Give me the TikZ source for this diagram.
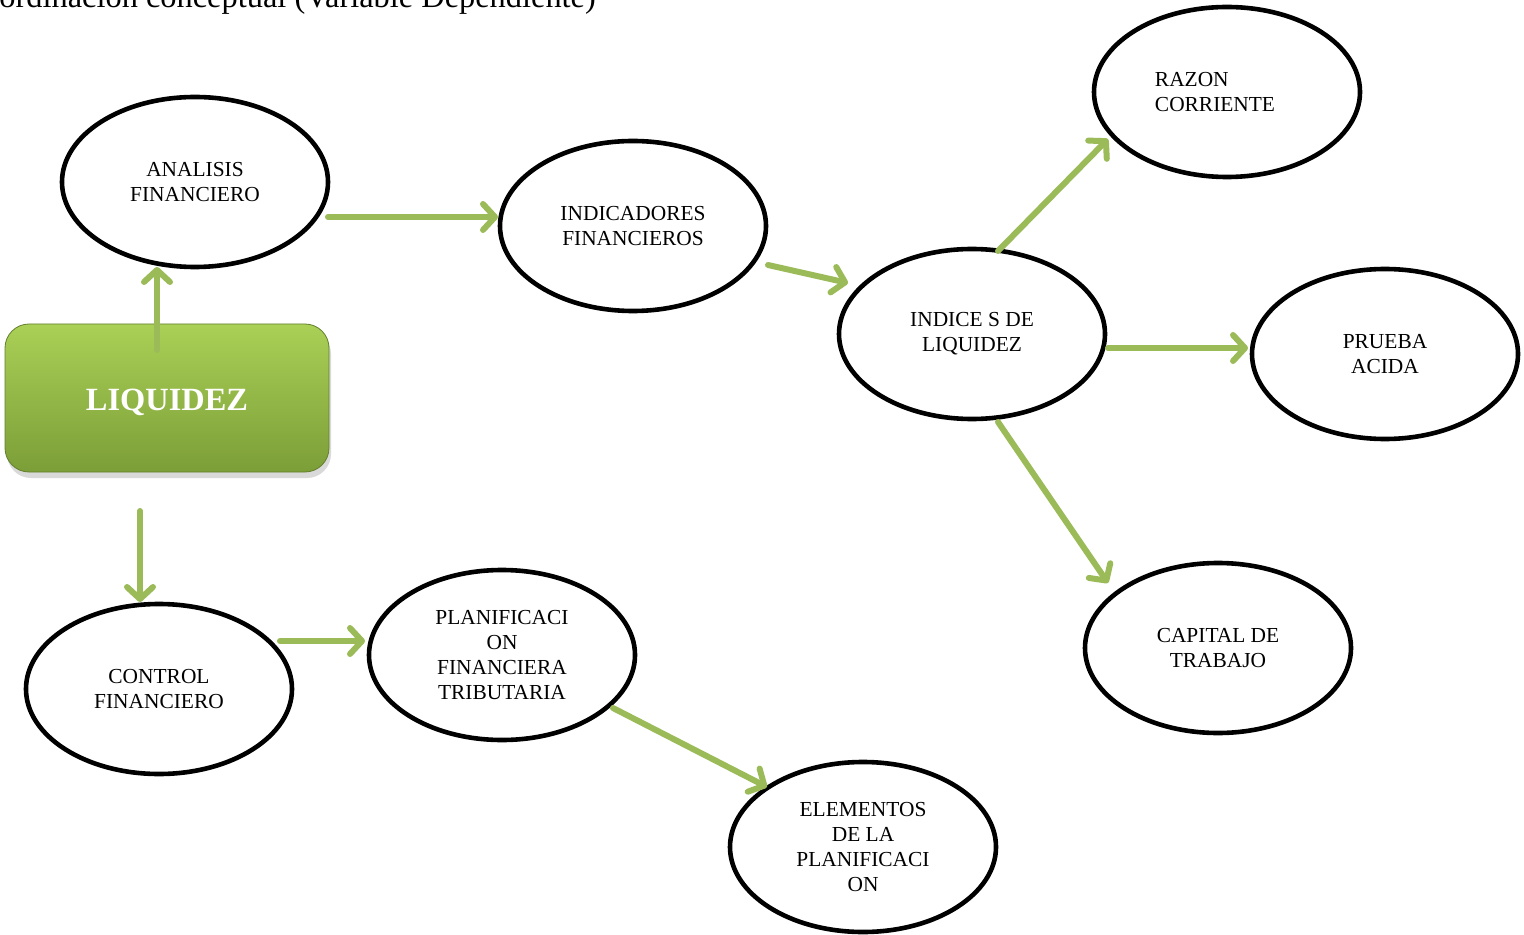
\documentclass[tikz,border=0pt]{standalone}
\usepackage{fontspec}
\setmainfont{Liberation Serif}
\usetikzlibrary{shapes.geometric,arrows.meta,calc,shadows}
\definecolor{arrowgreen}{RGB}{155,187,89}
\definecolor{boxtop}{RGB}{170,208,86}
\definecolor{boxbot}{RGB}{124,158,56}
\begin{document}
\begin{tikzpicture}[x=0.5pt,y=-0.5pt,
  bub/.style={ellipse,draw=black,line width=2.3pt,minimum width=133pt,minimum height=85pt,
    inner sep=0pt,align=center,font=\fontsize{10.7}{12.5}\selectfont},
  liqbox/.style={rectangle,rounded corners=12pt,minimum width=162pt,minimum height=74pt,
    top color=boxtop,bottom color=boxbot,draw=boxbot!80!black,line width=0.4pt,
    text=white,font=\fontsize{16.2}{20}\selectfont\bfseries,
    drop shadow={shadow xshift=1pt,shadow yshift=-3pt,opacity=0.3}},
  arr/.style={draw=arrowgreen,line width=3pt,line cap=round,
    -{Straight Barb[length=6pt,width=13pt,round]}}]
\useasboundingbox (0,0) rectangle (1524,935);
\clip (0,0) rectangle (1524,935);
\node[anchor=base west,font=\fontsize{16.2}{19}\selectfont,inner sep=0pt] (title) at (-1,7.5)
  {ordinación conceptual (Variable Dependiente)};

\node[liqbox] (liq) at (167,398) {\raisebox{-2pt}[\height][\depth]{LIQUIDEZ}};

\node[bub] (ana) at (195,182) {ANALISIS\\FINANCIERO};
\node[bub] (ind) at (633,226) {INDICADORES\\FINANCIEROS};
\node[bub] (idx) at (972,334) {INDICE S DE\\LIQUIDEZ};
\node[bub,align=left] (raz) at (1227,92) {RAZON\\CORRIENTE\hspace*{12pt}};
\node[bub] (pru) at (1385,354) {PRUEBA\\ACIDA};
\node[bub] (cap) at (1218,648) {CAPITAL DE\\TRABAJO};
\node[bub] (con) at (159,689) {CONTROL\\FINANCIERO};
\node[bub] (pla) at (502,655) {PLANIFICACI\\ON\\FINANCIERA\\TRIBUTARIA};
\node[bub] (ele) at (863,847) {ELEMENTOS\\DE LA\\PLANIFICACI\\ON};

\draw[arr] ($(liq.center)+(-10,-48)$) -- ($(ana.center)+(-38,85)$);
\draw[arr] ($(ana.center)+(133,35)$) -- ($(ind.center)+(-135,-9)$);
\draw[arr] ($(ind.center)+(135,39)$) -- ($(idx.center)+(-124,-51)$);
\draw[arr] ($(idx.center)+(26,-83)$) -- ($(raz.center)+(-119,47)$);
\draw[arr] ($(idx.center)+(136,14)$) -- ($(pru.center)+(-137,-6)$);
\draw[arr] ($(idx.center)+(26,88)$) -- ($(cap.center)+(-110,-65)$);
\draw[arr] ($(liq.center)+(-27,113)$) -- ($(con.center)+(-19,-87)$);
\draw[arr] ($(con.center)+(121,-48)$) -- ($(pla.center)+(-137,-14)$);
\draw[arr] ($(pla.center)+(111,53)$) -- ($(ele.center)+(-96,-60)$);
\end{tikzpicture}
\end{document}
